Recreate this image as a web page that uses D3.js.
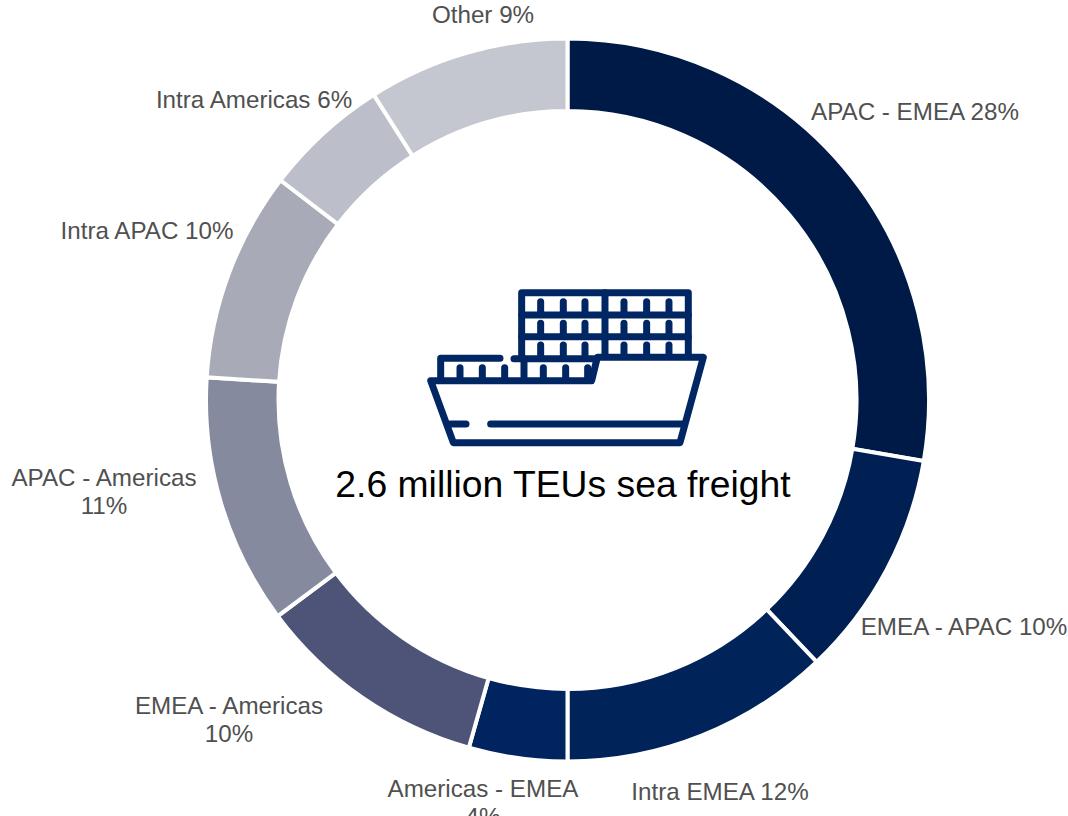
<!DOCTYPE html>
<html><head><meta charset="utf-8">
<script src="https://cdn.jsdelivr.net/npm/d3@7/dist/d3.min.js"></script>
<style>html,body{margin:0;padding:0;background:#fff;overflow:hidden}svg{display:block}</style>
</head><body><svg id="c" width="1068" height="816"></svg>
<script>
const categories=["APAC - EMEA","EMEA - APAC","Intra EMEA","Americas - EMEA","EMEA - Americas","APAC - Americas","Intra APAC","Intra Americas","Other"];
const values=[27.7,10.2,12.1,4.4,10.4,11.2,9.4,5.6,9.0];
const shownPercent=[28,10,12,4,10,11,10,6,9];
const colors=["#001a47","#001f52","#00245a","#00245f","#4d5478","#858a9e","#a8abb7","#bcbfc9","#c4c7cf"];
const labelLines=[["APAC - EMEA 28%"],["EMEA - APAC 10%"],["Intra EMEA 12%"],["Americas - EMEA","4%"],["EMEA - Americas","10%"],["APAC - Americas","11%"],["Intra APAC 10%"],["Intra Americas 6%"],["Other 9%"]];
const labelAnchors=[[915,111],[964,626],[720,791],[483,788],[229,705],[104,477],[147,230],[254,99],[483,14]];
const centerTitle="2.6 million TEUs sea freight";

const svg=d3.select("#c");
const cx=567.5,cy=400,outerR=361.5,innerR=289;
const pie=d3.pie().sort(null).value(d=>d);
const arc=d3.arc().innerRadius(innerR).outerRadius(outerR);
const g=svg.append("g").attr("transform",`translate(${cx},${cy})`);
g.selectAll("path").data(pie(values)).join("path")
 .attr("d",arc).attr("fill",(d,i)=>colors[i]).attr("stroke","#fff").attr("stroke-width",4);

const font="'Liberation Sans',Arial,sans-serif";
categories.forEach((c,i)=>{
  const t=svg.append("text").attr("font-family",font).attr("font-size",24.2).attr("fill","#505050")
    .attr("text-anchor","middle").attr("dominant-baseline","central")
    .attr("transform",`translate(${labelAnchors[i][0]},${labelAnchors[i][1]})`);
  labelLines[i].forEach((l,j)=>t.append("tspan").attr("x",0).attr("y",j*28).text(l));
});

svg.append("text").attr("x",563).attr("y",484).attr("font-family",font).attr("font-size",37.3)
 .attr("fill","#000").attr("text-anchor","middle").attr("dominant-baseline","central").text(centerTitle);

// ship icon, drawn in a local 3x grid
const ship=svg.append("g").attr("transform","translate(420,280) scale(0.3333)")
 .attr("fill","none").attr("stroke","#002663").attr("stroke-width",21)
 .attr("stroke-linecap","round").attr("stroke-linejoin","round");
const shipPaths=[
 "M305,228V38H805V228","M305,105H805","M305,170H805","M555,38V228",
 "M850,232H532L515,302H32L100,488H780Z",
 "M240,235H62V298","M282,236H520","M312,236V298",
 "M90,432H138","M212,432H790"];
ship.selectAll("path.s").data(shipPaths).join("path").attr("class","s").attr("d",d=>d);
const upperTickX=[362,430,495,612,680,747],upperRows=[[65,100],[130,165],[195,228]];
const lowerTickX=[120,187,254,370,437,503];
upperRows.forEach(r=>upperTickX.forEach(x=>ship.append("line").attr("x1",x).attr("x2",x).attr("y1",r[0]).attr("y2",r[1])));
lowerTickX.forEach(x=>ship.append("line").attr("x1",x).attr("x2",x).attr("y1",263).attr("y2",298));
</script></body></html>
